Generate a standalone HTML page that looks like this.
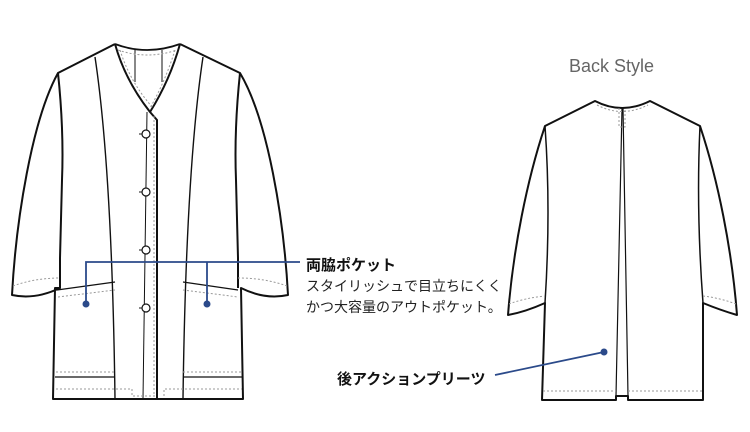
<!DOCTYPE html>
<html><head><meta charset="utf-8"><style>
html,body{margin:0;padding:0;background:#fff;width:750px;height:432px;overflow:hidden}
svg{display:block}
text{font-family:"Liberation Sans","Noto Sans CJK JP",sans-serif}
</style></head><body>
<svg width="750" height="432" viewBox="0 0 750 432">
<g fill="none" stroke="#111" stroke-width="2" stroke-linejoin="round">
<path d="M115,44 Q147,56 180,44" stroke-width="1.8"/>
<path d="M115,44 L58,73 C32,120 16,220 12,295 Q35,300 60,288 L55,288 L53,399 L243,399 L241,288 Q265,300 288,295 C284,220 268,120 240,73 L180,44"/>
<path d="M58,73 Q64,130 62,180 L60,258 L60,288"/>
<path d="M240,73 Q234,130 236,180 L238,258 L238,288"/>
<path d="M115,44 Q125,80 150,112 L157,120 L157,399"/>
<path d="M180,44 Q170,80 150,112"/>
<path d="M147,112 L143,399" stroke-width="1"/>
<path d="M95,57 Q112,170 115,399" stroke-width="1.4"/>
<path d="M203,57 Q186,170 183,399" stroke-width="1.4"/>
<path d="M57,290 L115,282" stroke-width="1.2"/>
<path d="M183,282 L238,290" stroke-width="1.2"/>
<path d="M55,377 L115,377 M183,377 L242,377" stroke-width="1.2"/>
<path d="M135,50 L135,82 M162,50 L162,82" stroke-width="1"/>
</g>
<g fill="none" stroke="#999" stroke-width="1" stroke-dasharray="2,2">
<path d="M118,50 Q147,60 177,50"/>
<path d="M120,50 Q130,82 153,108"/>
<path d="M175,50 Q165,82 150,108"/>
<path d="M154,116 L154,396"/>
<path d="M13,286 Q35,278 60,278"/>
<path d="M287,286 Q265,278 238,278"/>
<path d="M58,297 L115,290 M183,290 L238,297"/>
<path d="M56,372 L115,372 M183,372 L242,372"/>
<path d="M56,389 L132,389 L132,396 L157,396 M164,396 L164,389 L242,389"/>
</g>
<g fill="#fff" stroke="#111" stroke-width="1.2">
<circle cx="146" cy="134" r="4"/><circle cx="146" cy="192" r="4"/><circle cx="146" cy="250" r="4"/><circle cx="146" cy="308" r="4"/>
</g>
<g stroke="#111" stroke-width="1"><path d="M139,134h3M139,192h3M139,250h3M139,308h3"/></g>

<g fill="none" stroke="#111" stroke-width="2" stroke-linejoin="round">
<path d="M595,101 Q622,115 650,101 L700,126 C718,180 732,250 737,315 Q720,310 703,303 L703,400 L628,400 L628,396 L616,396 L616,400 L542,400 L545,303 Q525,312 508,315 C513,250 527,180 545,126 Z"/>
<path d="M545,126 Q551,210 545,303" stroke-width="1.5"/>
<path d="M700,126 Q696,210 703,303" stroke-width="1.5"/>
<path d="M622,108 L616,396 M623,108 L628,396" stroke-width="1.2"/>
</g>
<g fill="none" stroke="#999" stroke-width="1" stroke-dasharray="2,2">
<path d="M597,105 Q622,118 648,105"/>
<path d="M619,108 L619,127 L625,127 L625,108"/>
<path d="M509,304 Q525,298 545,296 M736,304 Q720,298 703,296"/>
<path d="M543,391 L616,391 M628,391 L702,391"/>
</g>

<g stroke="#2b4a8a" stroke-width="1.8" fill="none">
<path d="M86,304 L86,262 L300,262 M207,262 L207,304"/>
<path d="M495,375 L604,352"/>
</g>
<g fill="#2b4a8a"><circle cx="86" cy="304" r="3.5"/><circle cx="207" cy="304" r="3.5"/><circle cx="604" cy="352" r="3.5"/></g>

<text x="569" y="72" font-size="18" fill="#666">Back Style</text>
<text x="306" y="270" font-size="15" font-weight="bold" fill="#111">両脇ポケット</text>
<text x="306" y="291" font-size="14" fill="#222">スタイリッシュで目立ちにくく</text>
<text x="306" y="312" font-size="14" fill="#222">かつ大容量のアウトポケット。</text>
<text x="337" y="384" font-size="15" font-weight="bold" fill="#111">後アクションプリーツ</text>
</svg>
</body></html>
